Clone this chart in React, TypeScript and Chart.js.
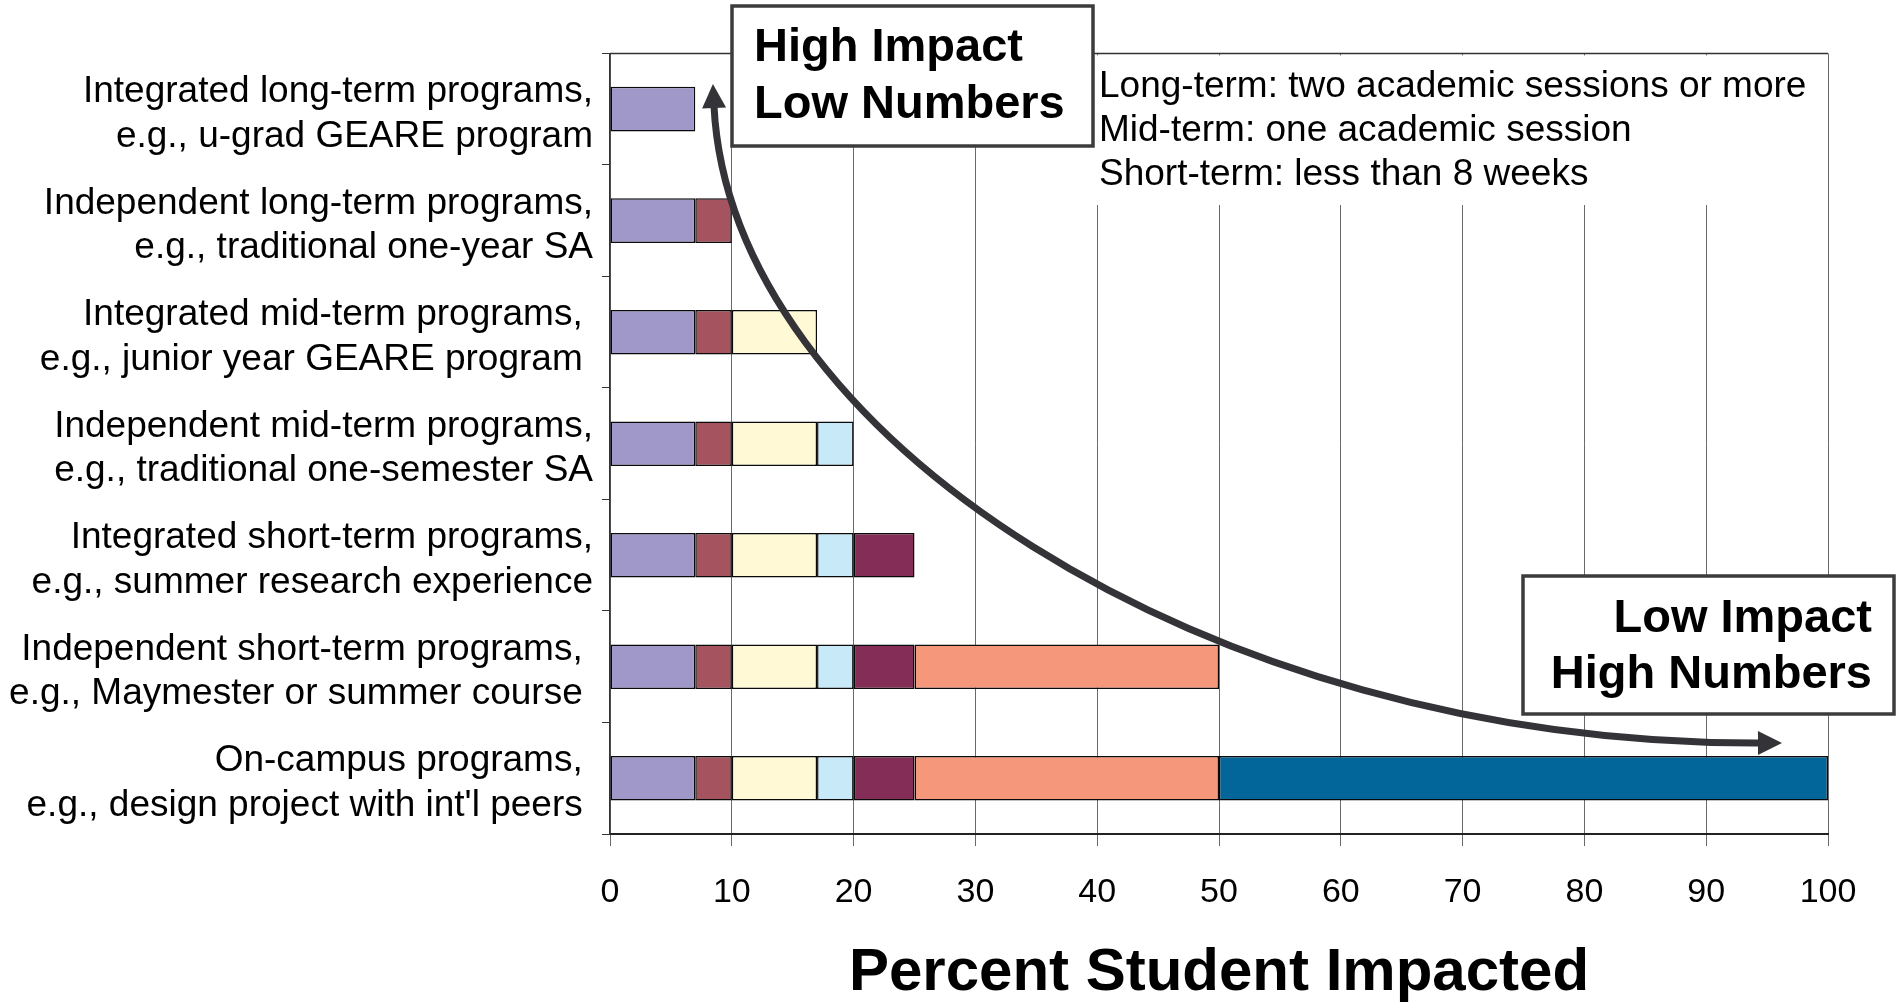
import React, { useEffect, useRef } from 'react';
import { Chart, registerables } from 'chart.js';

Chart.register(...registerables);

const FONT = "'Liberation Sans', Arial, Helvetica, sans-serif";

// Categories (multi-line y tick labels)
const categories: string[][] = [
  ['Integrated long-term programs,', 'e.g., u-grad GEARE program'],
  ['Independent long-term programs,', 'e.g., traditional one-year SA'],
  ['Integrated mid-term programs, ', 'e.g., junior year GEARE program '],
  ['Independent mid-term programs,', 'e.g., traditional one-semester SA'],
  ['Integrated short-term programs,', 'e.g., summer research experience'],
  ['Independent short-term programs, ', 'e.g., Maymester or summer course '],
  ['On-campus programs, ', "e.g., design project with int'l peers "],
];

// Series (stacked segments, percent of students)
const seriesLabels = [
  'Integrated long-term',
  'Independent long-term',
  'Integrated mid-term',
  'Independent mid-term',
  'Integrated short-term',
  'Independent short-term',
  'On-campus',
];
const integratedLongTerm = [7, 7, 7, 7, 7, 7, 7];
const independentLongTerm = [null, 3, 3, 3, 3, 3, 3];
const integratedMidTerm = [null, null, 7, 7, 7, 7, 7];
const independentMidTerm = [null, null, null, 3, 3, 3, 3];
const integratedShortTerm = [null, null, null, null, 5, 5, 5];
const independentShortTerm = [null, null, null, null, null, 25, 25];
const onCampus = [null, null, null, null, null, null, 50];
const seriesColors = ['#9F98C9', '#A5535F', '#FFF9D6', '#C8E9F8', '#842D56', '#F5977A', '#02669A'];

// Axis
const xMin = 0;
const xMax = 100;
const xStep = 10;
const xTitle = 'Percent Student Impacted';

// Annotation texts
const definitions = [
  'Long-term: two academic sessions or more',
  'Mid-term: one academic session',
  'Short-term: less than 8 weeks',
];
const highImpactText = ['High Impact', 'Low Numbers'];
const lowImpactText = ['Low Impact', 'High Numbers'];

function drawBox(
  ctx: CanvasRenderingContext2D,
  x: number, y: number, w: number, h: number,
  lines: string[], align: CanvasTextAlign, tx: number, ys: number[]
) {
  ctx.fillStyle = '#ffffff';
  ctx.fillRect(x, y, w, h);
  ctx.strokeStyle = '#3c3c3e';
  ctx.lineWidth = 3.5;
  ctx.strokeRect(x, y, w, h);
  ctx.fillStyle = '#000000';
  ctx.font = `bold 47px ${FONT}`;
  ctx.textAlign = align;
  ctx.textBaseline = 'middle';
  lines.forEach((t, i) => ctx.fillText(t, tx, ys[i]));
}

function drawHead(ctx: CanvasRenderingContext2D, bx: number, by: number, dx: number, dy: number) {
  const len = Math.hypot(dx, dy);
  const ux = dx / len, uy = dy / len;
  const px = -uy, py = ux;
  const L = 24, W = 12;
  const sx = bx - ux * 2, sy = by - uy * 2;
  ctx.beginPath();
  ctx.moveTo(sx + ux * L, sy + uy * L);
  ctx.lineTo(sx + px * W, sy + py * W);
  ctx.lineTo(sx - px * W, sy - py * W);
  ctx.closePath();
  ctx.fill();
}

const annotationPlugin = {
  id: 'impactAnnotations',
  afterDraw(chart: any) {
    const { ctx, chartArea: ca } = chart;
    ctx.save();
    // top frame line
    ctx.strokeStyle = '#333333';
    ctx.lineWidth = 1.5;
    ctx.beginPath();
    ctx.moveTo(ca.left, ca.top);
    ctx.lineTo(ca.right, ca.top);
    ctx.stroke();

    // definitions text block (white background over gridlines)
    ctx.fillStyle = '#ffffff';
    ctx.fillRect(1094, ca.top + 2, 726, 205 - ca.top - 2);
    ctx.fillStyle = '#000000';
    ctx.font = `37px ${FONT}`;
    ctx.textAlign = 'left';
    ctx.textBaseline = 'middle';
    definitions.forEach((t, i) => ctx.fillText(t, 1099, 87 + i * 44));

    // boxes
    drawBox(ctx, 732, 6, 361, 140, highImpactText, 'left', 754, [48, 105]);
    drawBox(ctx, 1523, 576, 371, 138, lowImpactText, 'right', 1872, [619, 675]);

    // curved arrow
    const P0 = { x: 714, y: 106 };
    const P1 = { x: 730, y: 430 };
    const P2 = { x: 1200, y: 745 };
    const P3 = { x: 1760, y: 743 };
    ctx.strokeStyle = '#343438';
    ctx.fillStyle = '#343438';
    ctx.lineWidth = 7;
    ctx.beginPath();
    ctx.moveTo(P0.x, P0.y);
    ctx.bezierCurveTo(P1.x, P1.y, P2.x, P2.y, P3.x, P3.y);
    ctx.stroke();
    drawHead(ctx, P0.x, P0.y, P0.x - P1.x, P0.y - P1.y);
    drawHead(ctx, P3.x, P3.y, P3.x - P2.x, P3.y - P2.y);
    ctx.restore();
  },
};

export default function App() {
  const canvasRef = useRef<HTMLCanvasElement | null>(null);

  useEffect(() => {
    const canvas = canvasRef.current;
    if (!canvas) return;
    const seriesData = [
      integratedLongTerm,
      independentLongTerm,
      integratedMidTerm,
      independentMidTerm,
      integratedShortTerm,
      independentShortTerm,
      onCampus,
    ];
    const chart = new Chart(canvas, {
      type: 'bar',
      data: {
        labels: categories,
        datasets: seriesData.map((d, i) => ({
          label: seriesLabels[i],
          data: d,
          backgroundColor: seriesColors[i],
          borderColor: '#0a0a0a',
          borderWidth: 1.5,
          borderSkipped: false,
          barPercentage: 0.4,
          categoryPercentage: 1,
        })),
      },
      options: {
        indexAxis: 'y',
        responsive: false,
        animation: false,
        devicePixelRatio: 1,
        layout: { padding: { top: 50, right: 72, bottom: 0, left: 0 } },
        plugins: {
          legend: { display: false },
          tooltip: { enabled: false },
        },
        scales: {
          x: {
            stacked: true,
            min: xMin,
            max: xMax,
            ticks: {
              stepSize: xStep,
              color: '#000000',
              font: { size: 34, family: FONT },
              padding: 26,
              maxRotation: 0,
            },
            grid: { color: '#6a6a6a', lineWidth: 1, tickLength: 12, drawTicks: true },
            border: { color: '#222222', width: 2 },
            title: {
              display: true,
              text: xTitle,
              color: '#000000',
              font: { size: 60, weight: 'bold', family: FONT, lineHeight: 1 },
              padding: { top: 0, bottom: 1 },
            },
            afterFit: (s: any) => {
              s.height = 170;
            },
          },
          y: {
            stacked: true,
            ticks: {
              color: '#000000',
              font: { size: 37, family: FONT, lineHeight: 1.2 },
              padding: 9,
              labelOffset: 5,
              autoSkip: false,
            },
            grid: { drawOnChartArea: false, drawTicks: true, tickLength: 8, color: '#333333' },
            border: { color: '#333333', width: 1.5 },
            afterFit: (s: any) => {
              s.width = 610;
            },
          },
        },
      },
      plugins: [annotationPlugin],
    } as any);
    return () => chart.destroy();
  }, []);

  return (
    <div style={{ position: 'absolute', left: 0, top: 0, width: 1900, height: 1004, background: '#fff' }}>
      <canvas ref={canvasRef} width={1900} height={1004} style={{ display: 'block' }} />
    </div>
  );
}
